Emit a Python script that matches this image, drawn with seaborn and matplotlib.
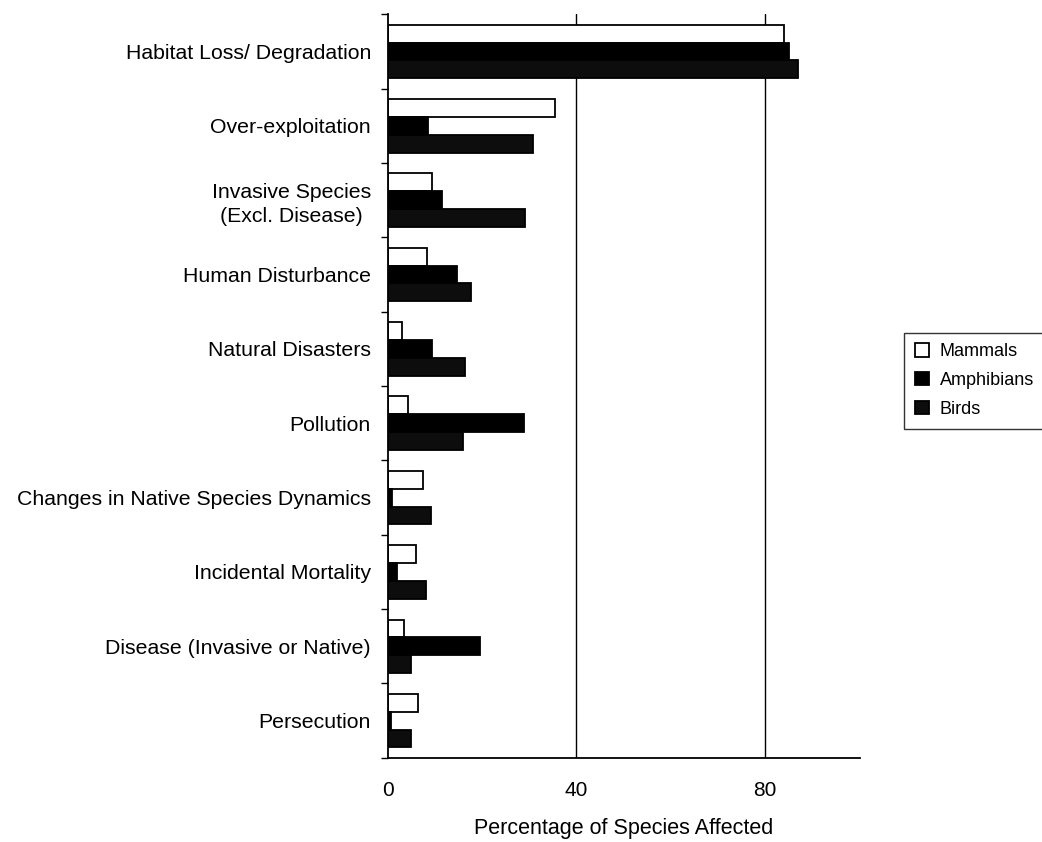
import numpy as np
import pandas as pd
import matplotlib
matplotlib.use("Agg")
import matplotlib.pyplot as plt
import seaborn as sns
from matplotlib.ticker import FixedLocator

categories = [
    "Habitat Loss/ Degradation",
    "Over-exploitation",
    "Invasive Species\n(Excl. Disease)",
    "Human Disturbance",
    "Natural Disasters",
    "Pollution",
    "Changes in Native Species Dynamics",
    "Incidental Mortality",
    "Disease (Invasive or Native)",
    "Persecution",
]
series = ["Mammals", "Amphibians", "Birds"]
mammals = [84, 35.5, 9.3, 8.4, 3.0, 4.4, 7.5, 6.0, 3.4, 6.4]
amphibians = [85, 8.6, 11.5, 14.6, 9.4, 28.8, 1.0, 2.0, 19.5, 0.8]
birds = [87, 30.7, 29.0, 17.6, 16.3, 16.0, 9.2, 8.2, 5.0, 5.0]
x_ticks = [0, 40, 80]

rows = []
for name, vals in zip(series, [mammals, amphibians, birds]):
    for c, v in zip(categories, vals):
        rows.append({"Threat": c, "Class": name, "Value": v})
df = pd.DataFrame(rows)

sns.set_theme(style="white")
plt.rcParams["font.family"] = ["Liberation Sans", "DejaVu Sans"]

fig = plt.figure(figsize=(10.42, 8.42), dpi=100)
ax = fig.add_axes([0.372, 0.1, 0.453, 0.883])

palette = {"Mammals": "white", "Amphibians": "black", "Birds": "#0d0d0d"}
sns.barplot(data=df, x="Value", y="Threat", hue="Class", order=categories,
            hue_order=series, palette=palette, edgecolor="black", linewidth=1.3,
            width=0.72, ax=ax, legend=True)

ax.set_xlim(0, 100)
ax.set_ylim(len(categories) - 0.5, -0.5)
ax.set_xticks(x_ticks)
ax.set_xticklabels([str(t) for t in x_ticks], fontsize=15, color="black")
ax.tick_params(axis="x", which="major", length=6, direction="inout", pad=14, color="black")
ax.tick_params(axis="y", which="major", length=0, labelsize=15.3, pad=12, labelcolor="black")
ax.yaxis.set_minor_locator(FixedLocator(np.arange(-0.5, len(categories), 1.0)))
ax.tick_params(axis="y", which="minor", length=5, direction="out", color="black", left=True)
for t in ax.get_yticklabels():
    t.set_horizontalalignment("right")
    t.set_multialignment("center")
    t.set_linespacing(1.35)

ax.set_axisbelow(True)
ax.grid(False)
for xv in x_ticks[1:]:
    ax.axvline(xv, color="black", linewidth=1.0, zorder=0)

for s in ["top", "right"]:
    ax.spines[s].set_visible(False)
for s in ["left", "bottom"]:
    ax.spines[s].set_color("black")
    ax.spines[s].set_linewidth(1.3)

ax.set_ylabel("")
ax.set_xlabel("Percentage of Species Affected", fontsize=15.5, labelpad=13, color="black")

handles, labels = ax.get_legend_handles_labels()
ax.legend_.remove()
leg = fig.legend(handles, labels, loc="center left", bbox_to_anchor=(0.868, 0.548),
                 fontsize=13, frameon=True, fancybox=False, edgecolor="black",
                 handlelength=0.75, handleheight=0.75, handletextpad=0.6,
                 borderpad=0.6, labelspacing=0.65, borderaxespad=0)
leg.get_frame().set_linewidth(1.0)
for t in leg.get_texts():
    t.set_color("black")

fig.savefig("out.png", dpi=100, facecolor="white")
